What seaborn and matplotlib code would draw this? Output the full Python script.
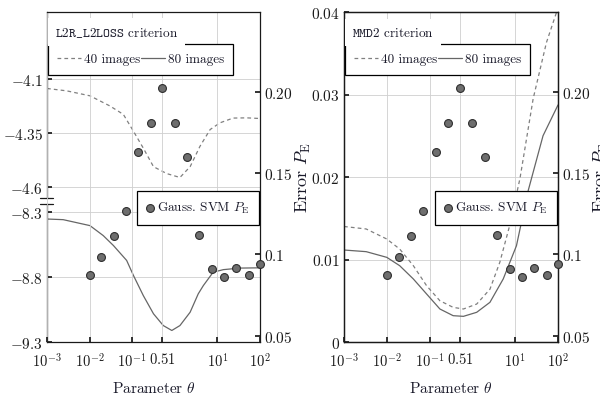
import matplotlib
matplotlib.use("Agg")
import matplotlib.pyplot as plt
import seaborn as sns

# Gauss. SVM error (right axis), same in both panels
theta_svm = [0.01, 0.019, 0.037, 0.072, 0.14, 0.27, 0.51, 1.0, 1.95, 3.8, 7.4, 14.3, 27.8, 53.9, 100]
pe_svm = [0.0873, 0.0983, 0.1115, 0.127, 0.163, 0.181, 0.2025, 0.181, 0.1597, 0.112, 0.091,
          0.0858, 0.0914, 0.0872, 0.0938]

# L2R_L2LOSS criterion
theta_l2_40 = [0.001, 0.0029, 0.0102, 0.030, 0.062, 0.107, 0.182, 0.316, 0.646, 1.32, 2.29,
               3.89, 6.76, 11.5, 23.4, 49, 100]
crit_l2_40 = [-4.144, -4.155, -4.178, -4.225, -4.264, -4.342, -4.42, -4.506, -4.538, -4.556,
              -4.506, -4.412, -4.334, -4.303, -4.281, -4.28, -4.283]
theta_l2_80 = [0.001, 0.0024, 0.0102, 0.0209, 0.0363, 0.0741, 0.107, 0.182, 0.316, 0.537,
               0.851, 1.32, 2.29, 3.55, 4.68, 7.94, 13.8, 33.9, 100]
crit_l2_80 = [-8.352, -8.357, -8.403, -8.48, -8.557, -8.672, -8.788, -8.943, -9.084, -9.175,
              -9.213, -9.175, -9.072, -8.93, -8.866, -8.763, -8.743, -8.731, -8.729]

# MMD2 criterion
theta_mmd_40 = [0.001, 0.0033, 0.01, 0.02, 0.0417, 0.0851, 0.174, 0.355, 0.617, 1.26, 2.57,
                4.37, 7.41, 12.9, 26.3, 53.7, 100]
crit_mmd_40 = [0.0140, 0.0137, 0.01248, 0.01127, 0.00925, 0.00682, 0.0050, 0.0042, 0.0040,
               0.0046, 0.0064, 0.00966, 0.0141, 0.0198, 0.0295, 0.0363, 0.0405]
theta_mmd_80 = [0.001, 0.0033, 0.01, 0.02, 0.0417, 0.0851, 0.174, 0.355, 0.617, 1.26, 2.57,
                5.25, 10.7, 20, 44.7, 100]
crit_mmd_80 = [0.01115, 0.01095, 0.01026, 0.00925, 0.00764, 0.00582, 0.0040, 0.00319, 0.00311,
               0.0036, 0.00481, 0.00764, 0.01167, 0.0183, 0.025, 0.02873]

xticks = [1e-3, 1e-2, 1e-1, 0.51, 1e1, 1e2]
xtick_labels = [r"$10^{-3}$", r"$10^{-2}$", r"$10^{-1}$", r"$0.51$", r"$10^{1}$", r"$10^{2}$"]
pe_ticks = [0.05, 0.1, 0.15, 0.20]
pe_labels = [r"$0.05$", r"$0.1$", r"$0.15$", r"$0.20$"]
l2_top_ticks = [-4.6, -4.35, -4.1]
l2_top_labels = [r"$-4.6$", r"$-4.35$", r"$-4.1$"]
l2_bot_ticks = [-9.3, -8.8, -8.3]
l2_bot_labels = [r"$-9.3$", r"$-8.8$", r"$-8.3$"]
mmd_ticks = [0, 0.01, 0.02, 0.03, 0.04]
mmd_labels = [r"$0$", r"$0.01$", r"$0.02$", r"$0.03$", r"$0.04$"]

sns.set_theme(style="white")
plt.rcParams.update({
    "font.family": "serif",
    "font.serif": ["cmr10"],
    "mathtext.fontset": "cm",
    "axes.unicode_minus": False,
    "axes.formatter.use_mathtext": True,
    "font.size": 10,
    "text.color": "#1a1a2a",
    "axes.labelcolor": "#1a1a2a",
    "axes.edgecolor": "#1a1a1a",
    "axes.linewidth": 0.9,
    "xtick.color": "#1a1a1a",
    "ytick.color": "#1a1a1a",
    "xtick.labelsize": 10.5,
    "ytick.labelsize": 11,
    "axes.labelsize": 11,
})

W, H = 600, 402
fig = plt.figure(figsize=(6, 4.02), dpi=100)
fig.patch.set_facecolor("white")


def box(x0, y0, x1, y1):
    return [x0 / W, 1 - y1 / H, (x1 - x0) / W, (y1 - y0) / H]


GRID = "#cfcfcf"
C40 = "#808080"
C80 = "#666666"


def setup_x(ax, labels=True):
    ax.set_xscale("log")
    ax.set_xlim(1e-3, 1e2)
    ax.xaxis.set_minor_locator(matplotlib.ticker.NullLocator())
    if labels:
        ax.set_xticks(xticks, xtick_labels)
        ax.tick_params(axis="x", direction="in", length=3.5, pad=6.5, bottom=True, top=False)
    else:
        ax.set_xticks([])


def style_pe(ax):
    ax.set_ylim(0.046, 0.2493)
    ax.yaxis.tick_right()
    ax.yaxis.set_label_position("right")
    ax.set_yticks(pe_ticks, pe_labels)
    ax.tick_params(axis="y", which="both", direction="in", length=3.5, pad=3,
                   left=False, right=True, labelleft=False, labelright=True)
    ax.set_ylabel(r"Error $P_{\mathrm{E}}$", rotation=90, labelpad=1, fontsize=13)
    ax.set_xlabel(r"Parameter $\theta$", labelpad=8)


def add_svm(ax):
    sns.scatterplot(x=theta_svm, y=pe_svm, ax=ax, color="#6e6e6e", edgecolor="#2e2e2e",
                    s=32, linewidth=0.8, zorder=5, clip_on=False)
    return ax.collections[-1]


def add_legends(ax, l40, l80, sc, title):
    leg1 = ax.legend(handles=[l40, l80], labels=["40 images", "80 images"], ncol=2,
                     loc="upper left", bbox_to_anchor=(0.005, 0.903), borderaxespad=0,
                     fancybox=False, framealpha=1, edgecolor="black", handlelength=1.8,
                     handletextpad=0.2, columnspacing=0.1, borderpad=0.7, fontsize=9.5)
    leg1.get_frame().set_linewidth(0.9)
    ax.add_artist(leg1)
    leg2 = ax.legend(handles=[sc], labels=[r"Gauss. SVM $P_{\mathrm{E}}$"],
                     loc="upper right", bbox_to_anchor=(0.995, 0.458), borderaxespad=0,
                     fancybox=False, framealpha=1, edgecolor="black", handlelength=0.6,
                     handletextpad=0.2, borderpad=0.7, fontsize=9.5)
    leg2.get_frame().set_linewidth(0.9)
    ax.text(0.036, 0.939, title, transform=ax.transAxes, ha="left", va="center",
            fontsize=9.5, zorder=10, bbox=dict(facecolor="white", edgecolor="none", pad=5))


# ---------------- left panel: L2R_L2LOSS (broken left axis) ----------------
ax_top = fig.add_axes(box(47, 13, 260, 199))
ax_bot = fig.add_axes(box(47, 205, 260, 343))
for a in (ax_top, ax_bot):
    a.set_facecolor("none")
    a.set_zorder(1)
    setup_x(a, labels=False)
    for s in ("top", "right", "bottom"):
        a.spines[s].set_visible(False)
    a.tick_params(axis="y", direction="in", length=3.5, pad=3, left=True, right=False)
    a.grid(axis="y", color=GRID, lw=0.6)

ax_top.set_ylim(-4.651, -3.79)
ax_top.set_yticks(l2_top_ticks, l2_top_labels)
ax_bot.set_ylim(-9.302, -8.236)
ax_bot.set_yticks(l2_bot_ticks, l2_bot_labels)

sns.lineplot(x=theta_l2_40, y=crit_l2_40, ax=ax_top, color=C40, lw=0.9, linestyle="--")
l40a = ax_top.lines[-1]
l40a.set_dashes([3, 2.5])
sns.lineplot(x=theta_l2_80, y=crit_l2_80, ax=ax_bot, color=C80, lw=0.9)
l80a = ax_bot.lines[-1]

# break marks on the left axis
ax_top.plot([-0.033, 0.03], [0, 0], transform=ax_top.transAxes, color="#1a1a1a", lw=0.9, clip_on=False)
ax_bot.plot([-0.033, 0.03], [1, 1], transform=ax_bot.transAxes, color="#1a1a1a", lw=0.9, clip_on=False)

ax_pe1 = fig.add_axes(box(47, 13, 260, 343))
ax_pe1.set_facecolor("none")
ax_pe1.set_zorder(2)
ax_pe1.spines["left"].set_visible(False)
setup_x(ax_pe1)
ax_pe1.grid(axis="x", color=GRID, lw=0.6)
style_pe(ax_pe1)
sc1 = add_svm(ax_pe1)
add_legends(ax_pe1, l40a, l80a, sc1, r"$\mathtt{L2R\_L2LOSS}$ criterion")

# ---------------- right panel: MMD2 ----------------
ax_m = fig.add_axes(box(344, 13, 558, 343))
setup_x(ax_m)
ax_m.set_ylim(0, 0.04)
ax_m.set_yticks(mmd_ticks, mmd_labels)
ax_m.tick_params(axis="y", direction="in", length=3.5, pad=3, left=True, right=False)
ax_m.grid(axis="both", color=GRID, lw=0.6)
sns.lineplot(x=theta_mmd_40, y=crit_mmd_40, ax=ax_m, color=C40, lw=0.9, linestyle="--")
l40b = ax_m.lines[-1]
l40b.set_dashes([3, 2.5])
sns.lineplot(x=theta_mmd_80, y=crit_mmd_80, ax=ax_m, color=C80, lw=0.9)
l80b = ax_m.lines[-1]

ax_pe2 = ax_m.twinx()
setup_x(ax_pe2)
style_pe(ax_pe2)
ax_m.set_xlabel(r"Parameter $\theta$", labelpad=8)
ax_pe2.set_xlabel("")
sc2 = add_svm(ax_pe2)
add_legends(ax_pe2, l40b, l80b, sc2, r"$\mathtt{MMD2}$ criterion")

fig.savefig("out.png", dpi=100)
